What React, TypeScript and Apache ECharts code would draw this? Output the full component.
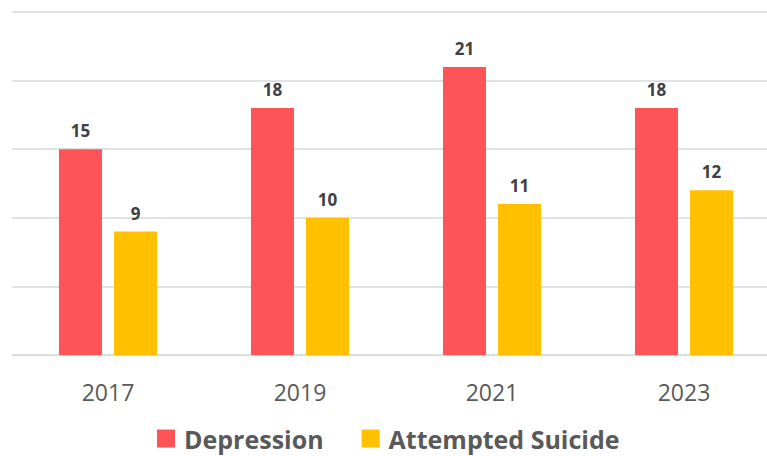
import React, { useEffect, useRef } from "react";
import * as echarts from "echarts";

const years = ["2017", "2019", "2021", "2023"];
const depression = [15, 18, 21, 18];
const attemptedSuicide = [9, 10, 11, 12];
const seriesNames = ["Depression", "Attempted Suicide"];

export default function App() {
  const ref = useRef<HTMLDivElement>(null);
  useEffect(() => {
    if (!ref.current) return;
    const chart = echarts.init(ref.current, null, { renderer: "svg" });
    const labelStyle = {
      show: true,
      position: "top" as const,
      distance: 10,
      fontFamily: "Open Sans",
      fontWeight: "bold" as const,
      fontSize: 17,
      color: "#404040",
    };
    chart.setOption({
      animation: false,
      backgroundColor: "#ffffff",
      grid: {
        left: 12,
        width: 768,
        top: 12,
        bottom: 101,
        containLabel: false,
        outerBoundsMode: "none",
      },
      legend: {
        data: seriesNames,
        top: 421,
        left: 152,
        icon: "rect",
        itemWidth: 18,
        itemHeight: 18,
        itemGap: 38,
        textStyle: {
          fontFamily: "Open Sans",
          fontWeight: "bold",
          fontSize: 25,
          color: "#595959",
          padding: [0, 0, 0, 4],
        },
      },
      xAxis: {
        type: "category",
        data: years,
        axisLine: { show: true, lineStyle: { color: "#d9d9d9", width: 1 } },
        axisTick: { show: false },
        axisLabel: {
          margin: 25,
          fontFamily: "Open Sans",
          fontSize: 23,
          color: "#595959",
        },
      },
      yAxis: {
        type: "value",
        min: 0,
        max: 25,
        interval: 5,
        axisLabel: { show: false },
        axisLine: { show: false },
        axisTick: { show: false },
        splitLine: { show: true, lineStyle: { color: "#d9d9d9", width: 1.5 } },
      },
      series: [
        {
          name: seriesNames[0],
          type: "bar",
          data: depression,
          barWidth: 43,
          barGap: "28%",
          itemStyle: { color: "#FF5457" },
          label: labelStyle,
        },
        {
          name: seriesNames[1],
          type: "bar",
          data: attemptedSuicide,
          barWidth: 43,
          itemStyle: { color: "#FFC000" },
          label: labelStyle,
        },
      ],
    });
    return () => chart.dispose();
  }, []);
  return <div ref={ref} style={{ width: 767, height: 456, position: "absolute", left: 0, top: 0 }} />;
}
